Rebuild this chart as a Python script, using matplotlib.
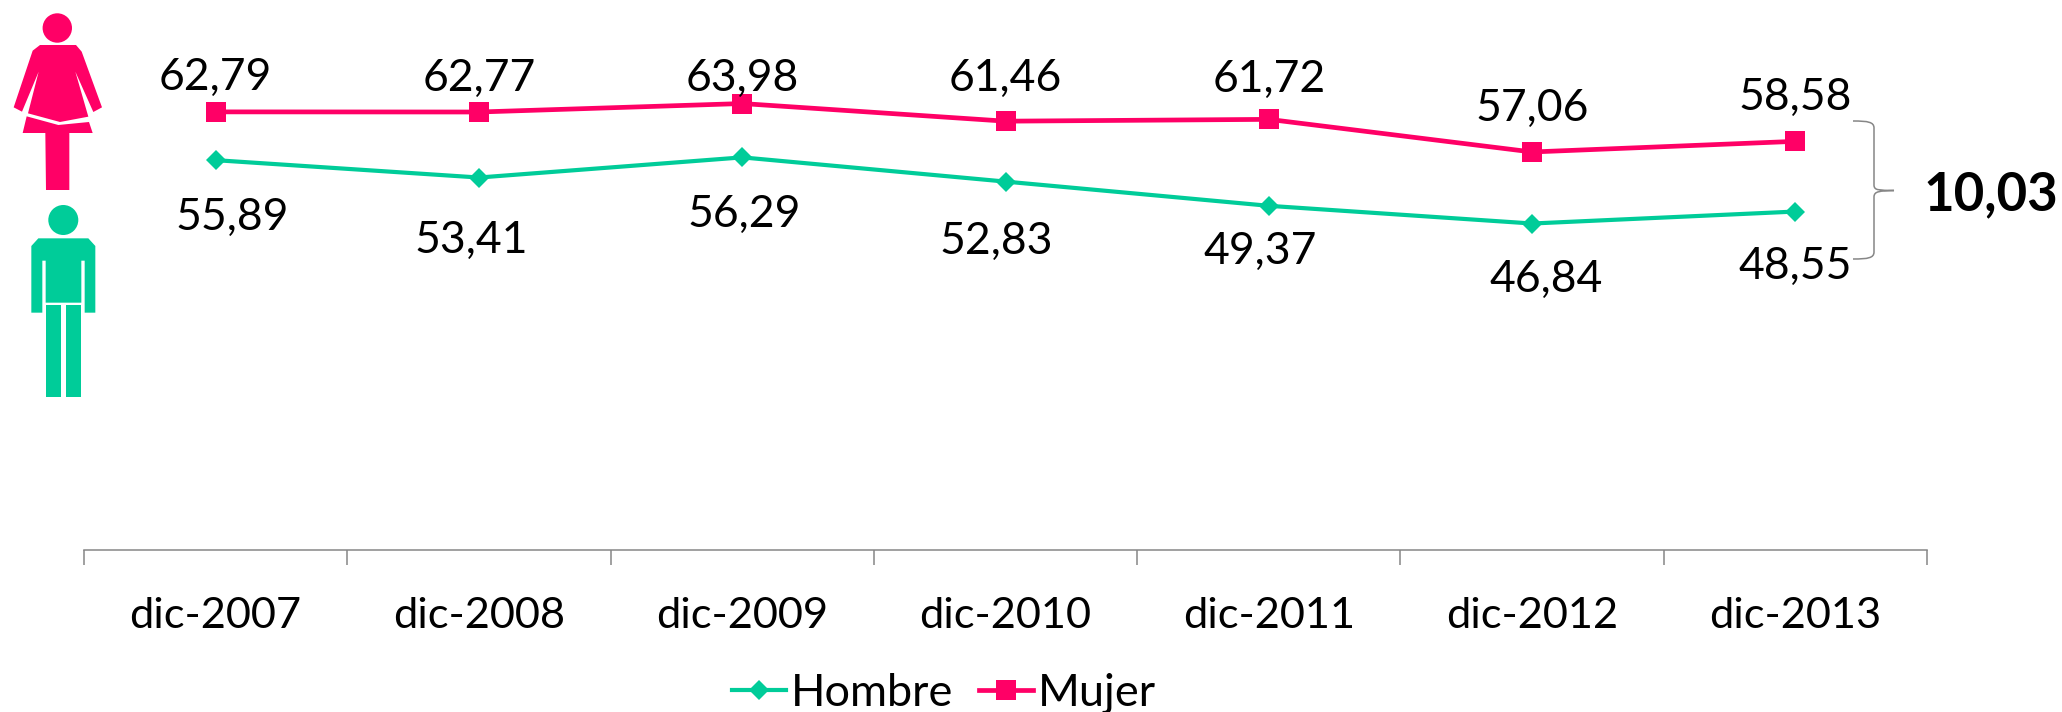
import matplotlib
matplotlib.use('Agg')
import matplotlib.pyplot as plt
from matplotlib.patches import Circle, Polygon, Rectangle, PathPatch
from matplotlib.path import Path

plt.rcParams['font.family'] = ['Lato', 'DejaVu Sans']

# Data
categories = ['dic-2007', 'dic-2008', 'dic-2009', 'dic-2010', 'dic-2011', 'dic-2012', 'dic-2013']
hombre = [55.89, 53.41, 56.29, 52.83, 49.37, 46.84, 48.55]
mujer = [62.79, 62.77, 63.98, 61.46, 61.72, 57.06, 58.58]
gap_label = '10,03'

PINK = '#FF0066'
GREEN = '#00CC99'
GRAY = '#868686'
FONT = 32

W, H = 2062, 712
AXIS_Y = 550
PX_PER_UNIT = 7.0
Y_BASE = 0.2

# label offsets from their points, in pixels (right, up)
mujer_off = [(0, 34), (0, 34), (0, 25), (0, 43), (0, 40), (0, 44), (0, 44)]
hombre_off = [(17, -57), (-8, -63), (2, -57), (-9, -60), (-9, -46), (14, -56), (0, -55)]


def fmt(v):
    return f'{v:.2f}'.replace('.', ',')


fig = plt.figure(figsize=(W / 100, H / 100), dpi=100)
ax = fig.add_axes([84 / W, (H - AXIS_Y) / H, (1927 - 84) / W, AXIS_Y / H])
ax.patch.set_alpha(0)

x = list(range(len(categories)))
ax.plot(x, hombre, color=GREEN, lw=3, marker='D', ms=10.5, mew=0, label='Hombre', clip_on=False)
ax.plot(x, mujer, color=PINK, lw=3.4, marker='s', ms=13.7, mew=0, label='Mujer', clip_on=False)

for i in x:
    ax.annotate(fmt(mujer[i]), (i, mujer[i]), xytext=mujer_off[i], textcoords='offset pixels',
                ha='center', va='center', fontsize=FONT, color='black')
    ax.annotate(fmt(hombre[i]), (i, hombre[i]), xytext=hombre_off[i], textcoords='offset pixels',
                ha='center', va='center', fontsize=FONT, color='black')

ax.set_xlim(-0.5, len(categories) - 0.5)
ax.set_ylim(Y_BASE, Y_BASE + AXIS_Y / PX_PER_UNIT)
for s in ['top', 'left', 'right']:
    ax.spines[s].set_visible(False)
ax.spines['bottom'].set_color(GRAY)
ax.spines['bottom'].set_linewidth(1.1)
ax.set_yticks([])
ax.set_xticks([i - 0.5 for i in range(len(categories) + 1)])
ax.set_xticklabels([])
ax.tick_params(axis='x', which='major', length=10.8, width=1.1, color=GRAY)
ax.set_xticks(x, minor=True)
ax.set_xticklabels(categories, minor=True, fontsize=31.2)
ax.tick_params(axis='x', which='minor', length=0, pad=33.5)

fig.legend(loc='center', bbox_to_anchor=(944 / W, 1 - 693 / H), ncol=2, frameon=False,
           fontsize=32.5, handlelength=1.2, handletextpad=0.12, columnspacing=0.55,
           borderpad=0, borderaxespad=0)

# overlay in pixel coordinates for the icons, brace and the gap figure
ov = fig.add_axes([0, 0, 1, 1], zorder=5)
ov.set_xlim(0, W)
ov.set_ylim(H, 0)
ov.axis('off')


def z(points):
    # points were measured on a 3x crop of the top left corner
    return [(px / 3, py / 3) for px, py in points]


# woman
ov.add_patch(Circle((57.3, 28), 14.7, fc=PINK, ec='none'))
ov.add_patch(Polygon(z([(98, 152), (120, 135), (228, 135), (245, 155), (306, 322), (280, 336),
                        (226, 215), (265, 350), (180, 366), (84, 340), (116, 215), (66, 335), (41, 322)]),
                     fc=PINK, ec='none'))
ov.add_patch(Polygon(z([(80, 349), (175, 375), (267, 366), (278, 399), (208, 399), (208, 570),
                        (138, 570), (136, 399), (68, 399)]), fc=PINK, ec='none'))

# man
ov.add_patch(Circle((63.3, 220), 15, fc=GREEN, ec='none'))
ov.add_patch(Polygon(z([(94, 738), (115, 715), (265, 715), (286, 738), (286, 938), (254, 938),
                        (254, 782), (244, 782), (244, 908), (137, 908), (137, 782), (127, 782),
                        (127, 938), (94, 938)]), fc=GREEN, ec='none'))
ov.add_patch(Rectangle((137 / 3, 916 / 3), 45 / 3, 275 / 3, fc=GREEN, ec='none'))
ov.add_patch(Rectangle((199 / 3, 916 / 3), 44 / 3, 275 / 3, fc=GREEN, ec='none'))

# brace
brace = Path([(1853, 121), (1868, 121), (1874, 122), (1874, 128),
              (1874, 185), (1874, 191), (1880, 190), (1894, 190.5),
              (1880, 191), (1874, 191), (1874, 197),
              (1874, 252), (1874, 258), (1868, 259), (1853, 259)],
             [Path.MOVETO, Path.CURVE4, Path.CURVE4, Path.CURVE4,
              Path.LINETO, Path.CURVE4, Path.CURVE4, Path.CURVE4,
              Path.CURVE4, Path.CURVE4, Path.CURVE4,
              Path.LINETO, Path.CURVE4, Path.CURVE4, Path.CURVE4])
ov.add_patch(PathPatch(brace, fc='none', ec=GRAY, lw=1.1))

ov.text(1991, 195, gap_label, ha='center', va='center', fontsize=38, fontweight='bold', color='black')

fig.savefig('out.png', dpi=100)
